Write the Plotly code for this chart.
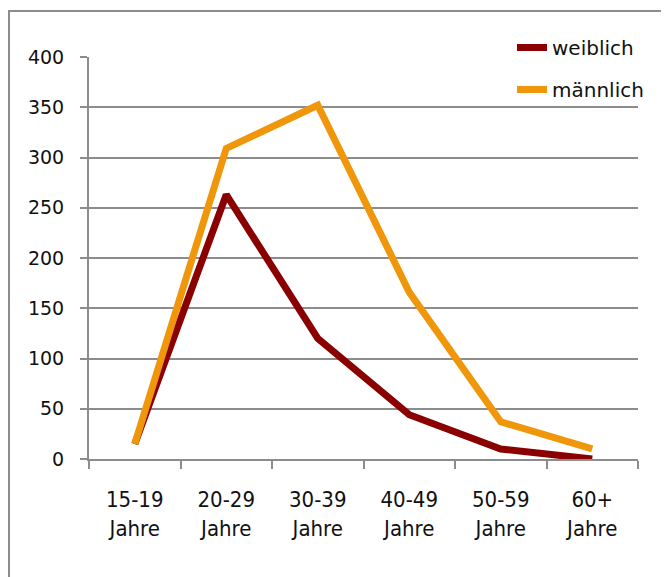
import plotly.graph_objects as go

categories = ["15-19<br>Jahre", "20-29<br>Jahre", "30-39<br>Jahre", "40-49<br>Jahre", "50-59<br>Jahre", "60+<br>Jahre"]
weiblich = [15, 263, 120, 44, 10, 0]
maennlich = [15, 309, 352, 166, 37, 10]
y_ticks = [0, 50, 100, 150, 200, 250, 300, 350, 400]

# page body has an 8px margin, so the figure is offset by 8px
W, H = 661, 569
L, T = 81, 49
pw, ph = 549, 402
R, B = W - L - pw, H - T - ph
GRAY = "#8c8c8c"

fig = go.Figure()
fig.add_trace(go.Scatter(x=categories, y=weiblich, name="weiblich", mode="lines",
                         line=dict(color="#8a0000", width=7), legendgroup="w"))
fig.add_trace(go.Scatter(x=categories, y=maennlich, name="männlich", mode="lines",
                         line=dict(color="#f0960a", width=7), legendgroup="m"))

fig.update_layout(
    width=W, height=H,
    margin=dict(l=L, r=R, t=T, b=B),
    paper_bgcolor="white", plot_bgcolor="white",
    font=dict(family="DejaVu Sans", color="#111111"),
    showlegend=True,
    legend=dict(x=(512 - 8 - L) / pw, y=(T + ph - 20) / ph, xanchor="left", yanchor="top",
                font=dict(family="DejaVu Sans", size=20, color="#111111"),
                traceorder="grouped", tracegroupgap=13, itemwidth=30,
                bgcolor="rgba(0,0,0,0)"),
    xaxis=dict(type="category", range=[-0.5, 5.5], tickson="boundaries",
               ticks="outside", ticklen=8, tickwidth=2, tickcolor=GRAY,
               showline=True, linecolor=GRAY, linewidth=2, showgrid=False,
               tickfont=dict(family="DejaVu Sans Condensed", size=22, color="#111111"),
               ticklabelstandoff=20, fixedrange=True),
    yaxis=dict(range=[0, 400], tickvals=y_ticks, ticks="outside", ticklen=7, tickwidth=2,
               tickcolor=GRAY, showline=True, linecolor=GRAY, linewidth=2,
               showgrid=True, gridcolor=GRAY, gridwidth=2, zeroline=False,
               tickfont=dict(family="DejaVu Sans", size=19, color="#111111"),
               ticklabelstandoff=12, fixedrange=True),
    shapes=[dict(type="rect", xref="paper", yref="paper",
                 x0=(1 - L) / pw, x1=1.3, y0=-0.5, y1=(T + ph - 3) / ph,
                 line=dict(color=GRAY, width=2), fillcolor="rgba(0,0,0,0)", layer="below")],
)

fig.write_html("out.html")
